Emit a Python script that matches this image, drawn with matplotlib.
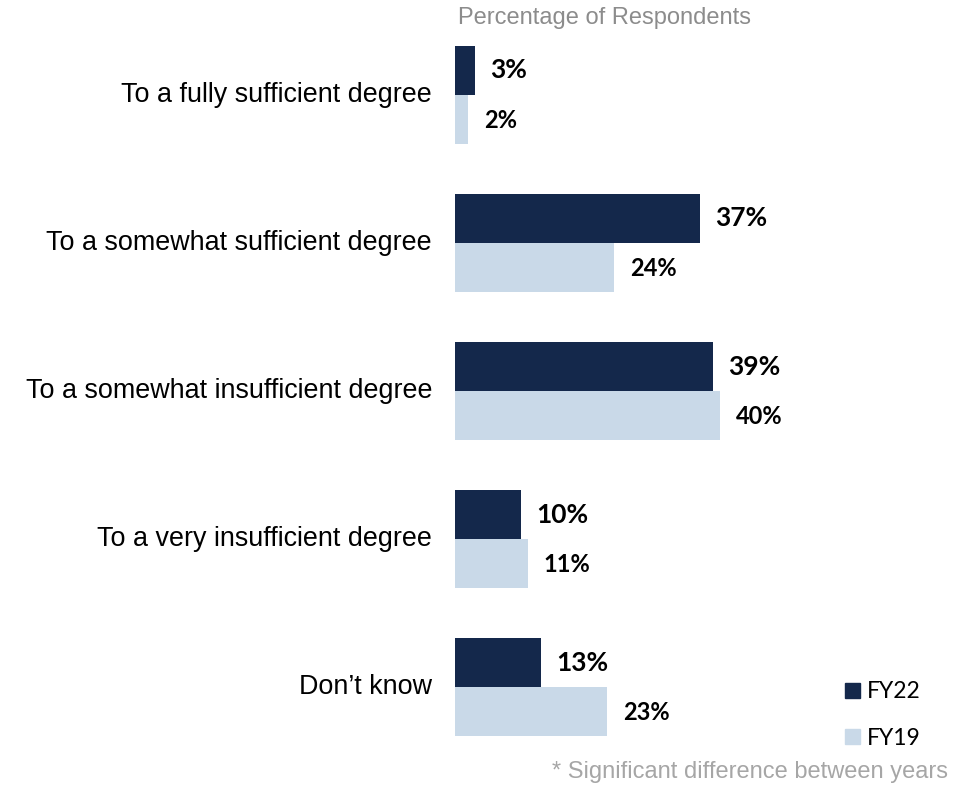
import matplotlib.pyplot as plt
import numpy as np
from matplotlib.patches import Patch

# Dati
categorie = ["To a fully sufficient degree", "To a somewhat sufficient degree",
             "To a somewhat insufficient degree", "To a very insufficient degree",
             "Don\u2019t know"]
fy22 = [3, 37, 39, 10, 13]
fy19 = [2, 24, 40, 11, 23]

col_fy22 = "#14284B"
col_fy19 = "#C9D9E8"

W, H = 974, 785
fig = plt.figure(figsize=(W / 100, H / 100), dpi=100)

# asse posizionato in pixel
ax_left, ax_right = 455, 755
ax_top, ax_bottom = 46, 736
ax = fig.add_axes([ax_left / W, 1 - ax_bottom / H, (ax_right - ax_left) / W, (ax_bottom - ax_top) / H])

px_per_pct = 6.62
h = 0.331
y = np.arange(len(categorie))

ax.barh(y - h / 2, fy22, height=h, color=col_fy22, label="FY22")
ax.barh(y + h / 2, fy19, height=h, color=col_fy19, label="FY19")

ax.set_xlim(0, (ax_right - ax_left) / px_per_pct)
ax.set_ylim(len(categorie) - 1 + h, -h)

for i in range(len(categorie)):
    ax.annotate(f"{fy22[i]}%", (fy22[i], y[i] - h / 2), xytext=(15, 0), textcoords="offset pixels",
                ha="left", va="center", fontsize=19, fontweight="bold", family="Lato")
    ax.annotate(f"{fy19[i]}%", (fy19[i], y[i] + h / 2), xytext=(16, -1), textcoords="offset pixels",
                ha="left", va="center", fontsize=17, fontweight="bold", family="Lato")
    ax.annotate(categorie[i], (0, y[i]), xytext=(-23, 0), textcoords="offset pixels",
                ha="right", va="center", fontsize=19.4, family="Liberation Sans", color="black")

for s in ax.spines.values():
    s.set_visible(False)
ax.set_xticks([])
ax.set_yticks([])

fig.text(458 / W, 1 - 18 / H, "Percentage of Respondents", ha="left", va="center",
         fontsize=17, family="Liberation Sans", color="#8C8C8C")
fig.text(948 / W, 1 - 772 / H, "* Significant difference between years", ha="right", va="center",
         fontsize=17, family="Liberation Sans", color="#A6A6A6")

handles = [Patch(color=col_fy22, label="FY22"), Patch(color=col_fy19, label="FY19")]
fig.legend(handles=handles, loc="center left", bbox_to_anchor=(845 / W, 1 - 715 / H),
           frameon=False, prop={"family": "Lato", "size": 16.5}, handlelength=0.66, handleheight=0.66,
           handletextpad=0.3, labelspacing=1.1, borderpad=0, borderaxespad=0)

fig.savefig("out.png", dpi=100)
